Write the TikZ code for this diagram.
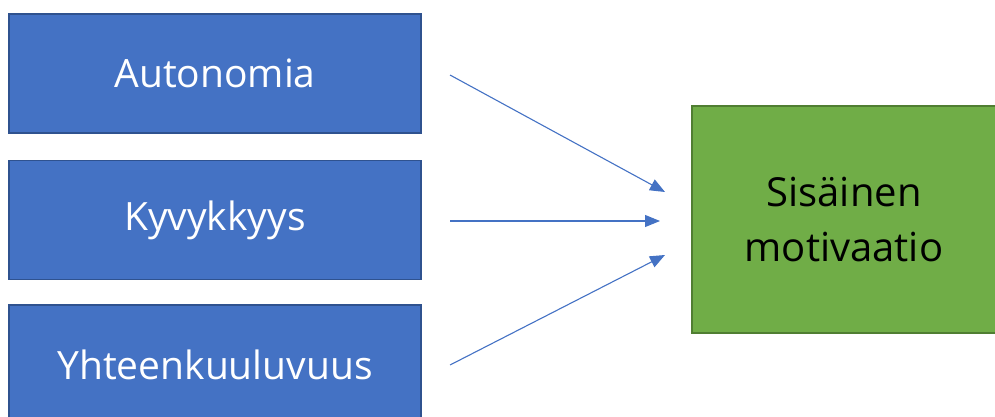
\documentclass[tikz,border=0pt]{standalone}
\usepackage{fontspec}
\setmainfont{Open Sans}
\usetikzlibrary{arrows.meta}
\definecolor{bluefill}{HTML}{4472C4}
\definecolor{blueline}{HTML}{2F528F}
\definecolor{greenfill}{HTML}{70AD47}
\definecolor{greenline}{HTML}{507E32}
\tikzset{
  bluebox/.style={draw=blueline, fill=bluefill, line width=1.5pt, minimum width=412pt, minimum height=119pt, inner sep=0pt, outer sep=0pt, text=white, font=\fontsize{39}{46}\selectfont},
  greenbox/.style={draw=greenline, fill=greenfill, line width=1.5pt, minimum width=304pt, minimum height=227pt, inner sep=0pt, outer sep=0pt, text=black, align=center, font=\fontsize{40}{55}\selectfont},
  conn/.style={draw=bluefill, line width=1.1pt, -{Triangle[length=15pt,width=12pt]}}
}
\begin{document}
\begin{tikzpicture}[x=1pt,y=-1pt]
\useasboundingbox (0,0) rectangle (995,417);
\clip (0,0) rectangle (995,417);
\node[bluebox] (a) at (215,73.5) {Autonomia};
\node[bluebox] (k) at (215,220) {Kyvykkyys};
\node[bluebox] (y) at (215,364.5) {Yhteenkuuluvuus};
\node[greenbox] (s) at (844,219.5) {Sisäinen\\motivaatio};
\coordinate (a1) at (450,75);
\coordinate (a2) at (665,192);
\coordinate (k1) at (450,221);
\coordinate (k2) at (660,221);
\coordinate (y1) at (450,365);
\coordinate (y2) at (665,255);
\draw[conn] (a1) -- (a2);
\draw[conn] (k1) -- (k2);
\draw[conn] (y1) -- (y2);
\end{tikzpicture}
\end{document}
